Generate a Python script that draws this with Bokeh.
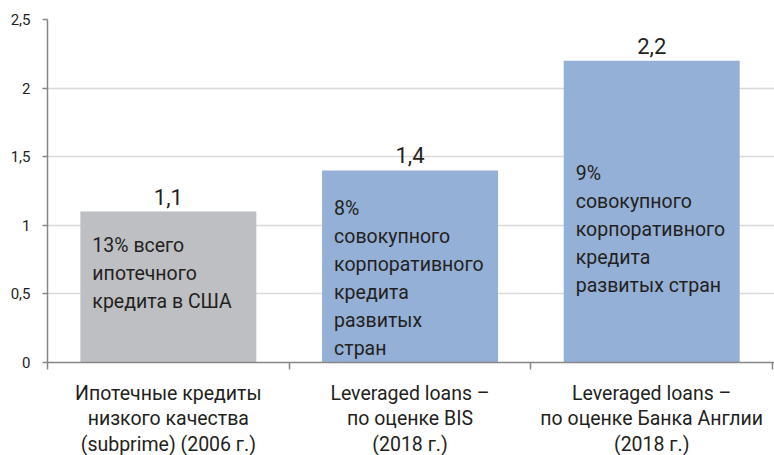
from bokeh.plotting import figure
from bokeh.models import Range1d, FixedTicker, ColumnDataSource
from bokeh.core.properties import value
from bokeh.embed import file_html
from bokeh.resources import INLINE

# ---- data ----
categories = [
    "Ипотечные кредиты\nнизкого качества\n(subprime) (2006 г.)",
    "Leveraged loans –\nпо оценке BIS\n(2018 г.)",
    "Leveraged loans –\nпо оценке Банка Англии\n(2018 г.)",
]
values = [1.1, 1.4, 2.2]
value_labels = ["1,1", "1,4", "2,2"]
notes = [
    "13% всего\nипотечного\nкредита в США",
    "8%\nсовокупного\nкорпоративного\nкредита\nразвитых\nстран",
    "9%\nсовокупного\nкорпоративного\nкредита\nразвитых стран",
]
bar_colors = ["#BEBFC3", "#94B0D6", "#94B0D6"]
y_ticks = [0.0, 0.5, 1.0, 1.5, 2.0, 2.5]
y_tick_labels = ["0", "0,5", "1", "1,5", "2", "2,5"]

# layout settings (not data)
note_top = [0.94, 1.205, 1.46]
BAR_W = 0.728
FONT = "Roboto"
TXT = "#231F20"

xs = [i + 0.5 for i in range(len(values))]
src = ColumnDataSource(dict(
    x=xs, top=values, color=bar_colors, lab=value_labels,
    note=notes, nx=[x - BAR_W / 2 for x in xs], ny=note_top,
))

p = figure(frame_width=727, frame_height=343, output_backend="svg",
           toolbar_location=None,
           x_range=Range1d(0, 3.008), y_range=Range1d(0, 2.5),
           min_border_left=47, min_border_right=0, min_border_top=19,
           min_border_bottom=60)
p.outline_line_color = None
p.background_fill_color = "white"
p.border_fill_color = "white"

p.vbar(x="x", top="top", width=BAR_W, bottom=0, fill_color="color",
       line_color=None, source=src)

p.text(x="x", y="top", text="lab", source=src, text_align="center",
       text_baseline="alphabetic", y_offset=-15,
       text_font=value(FONT), text_font_size="22px", text_color=TXT)

p.text(x="nx", y="ny", text="note", source=src, text_align="left",
       text_baseline="top", x_offset=12, text_line_height=1.22,
       text_font=value(FONT), text_font_size="19.5px", text_color=TXT)

# grid
p.xgrid.grid_line_color = None
p.ygrid.ticker = FixedTicker(ticks=y_ticks)
p.ygrid.grid_line_color = "#D9D9D9"
p.ygrid.grid_line_width = 1.3
p.ygrid.level = "underlay"

# y axis
ya = p.yaxis[0]
ya.ticker = FixedTicker(ticks=y_ticks)
ya.major_label_overrides = {t: l for t, l in zip(y_ticks, y_tick_labels)}
ya.axis_line_color = "#868686"
ya.axis_line_width = 1.5
ya.major_tick_line_color = "#868686"
ya.major_tick_line_width = 1.5
ya.major_tick_out = 5
ya.major_tick_in = 0
ya.minor_tick_line_color = None
ya.major_label_standoff = 12
ya.major_label_text_font = FONT
ya.major_label_text_font_size = "15px"
ya.major_label_text_color = TXT

# x axis
xa = p.xaxis[0]
xa.ticker = FixedTicker(ticks=xs, minor_ticks=[0, 1, 2, 3])
xa.major_label_overrides = {x: c for x, c in zip(xs, categories)}
xa.axis_line_color = "#868686"
xa.axis_line_width = 1.5
xa.major_tick_line_color = None
xa.major_tick_out = 0
xa.major_tick_in = 0
xa.minor_tick_line_color = "#868686"
xa.minor_tick_line_width = 1.5
xa.minor_tick_out = 7
xa.minor_tick_in = 0
xa.major_label_standoff = 12
xa.major_label_text_font = FONT
xa.major_label_text_font_size = "19.5px"
xa.major_label_text_color = TXT
xa.major_label_text_line_height = 1.12
xa.major_label_text_align = "center"

open("out.html", "w").write(file_html(p, INLINE))
